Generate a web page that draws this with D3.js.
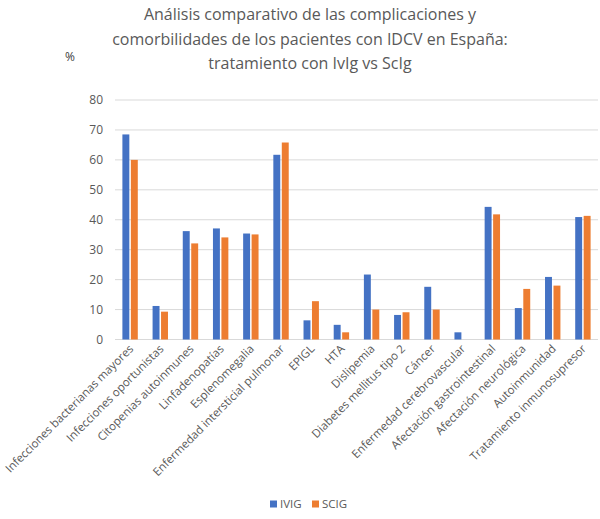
<!DOCTYPE html>
<html>
<head>
<meta charset="utf-8">
<script src="https://cdn.jsdelivr.net/npm/d3@7"></script>
<style>
  body { margin: 0; background: #fff; }
  text { font-family: "Open Sans", "Noto Sans", sans-serif; }
</style>
</head>
<body>
<svg id="chart" width="600" height="519"></svg>
<script>
// chart data
const categories = [
  "Infecciones bacterianas mayores", "Infecciones oportunistas", "Citopenias autoinmunes",
  "Linfadenopatías", "Esplenomegalia", "Enfermedad intersticial pulmonar", "EPIGL", "HTA",
  "Dislipemia", "Diabetes mellitus tipo 2", "Cáncer", "Enfermedad cerebrovascular",
  "Afectación gastrointestinal", "Afectación neurológica", "Autoinmunidad", "Tratamiento inmunosupresor"
];
const seriesNames = ["IVIG", "SCIG"];
const ivig = [68.5, 11.2, 36.2, 37.1, 35.4, 61.7, 6.4, 4.9, 21.7, 8.2, 17.6, 2.4, 44.3, 10.5, 20.9, 40.9];
const scig = [60.0, 9.3, 32.1, 34.1, 35.1, 65.8, 12.8, 2.4, 10.0, 9.1, 10.0, 0, 41.8, 16.9, 18.0, 41.3];
const yTicks = [0, 10, 20, 30, 40, 50, 60, 70, 80];
const titleLines = [
  "Análisis comparativo de las complicaciones y",
  "comorbilidades de los pacientes con IDCV en España:",
  "tratamiento con IvIg vs ScIg"
];

const colors = {IVIG: "#4472C4", SCIG: "#ED7D31"};
const svg = d3.select("#chart");

const plot = {left: 115, right: 598, top: 100, bottom: 339.5};

const x = d3.scaleBand().domain(categories).range([plot.left, plot.right]).paddingInner(0.49).paddingOuter(0.245);
const xs = d3.scaleBand().domain(seriesNames).range([0, x.bandwidth()]).paddingInner(0.18);
const y = d3.scaleLinear().domain([0, 80]).range([plot.bottom, plot.top]);

// gridlines
svg.append("g")
  .selectAll("line")
  .data(yTicks)
  .join("line")
  .attr("x1", plot.left).attr("x2", plot.right)
  .attr("y1", d => y(d)).attr("y2", d => y(d))
  .attr("stroke", "#d9d9d9").attr("stroke-width", 1);

// y labels
svg.append("g")
  .selectAll("text")
  .data(yTicks)
  .join("text")
  .attr("x", 103).attr("y", d => y(d))
  .attr("dy", "0.35em")
  .attr("text-anchor", "end")
  .attr("font-size", 12)
  .attr("fill", "#595959")
  .text(d => d);

// bars
const rows = categories.map((c, i) => ({cat: c, values: [
  {key: "IVIG", v: ivig[i]}, {key: "SCIG", v: scig[i]}
]}));

svg.append("g")
  .selectAll("g")
  .data(rows)
  .join("g")
  .attr("transform", d => "translate(" + x(d.cat) + ",0)")
  .selectAll("rect")
  .data(d => d.values)
  .join("rect")
  .attr("x", d => xs(d.key))
  .attr("width", xs.bandwidth())
  .attr("y", d => y(d.v))
  .attr("height", d => y(0) - y(d.v))
  .attr("fill", d => colors[d.key]);

// x labels, rotated
svg.append("g")
  .selectAll("text")
  .data(categories)
  .join("text")
  .attr("transform", d => "translate(" + (x(d) + x.bandwidth() / 2 + 4) + "," + (plot.bottom + 10) + ") rotate(-45)")
  .attr("text-anchor", "end")
  .attr("font-size", 11.5)
  .attr("fill", "#595959")
  .text(d => d);

// title
svg.append("g")
  .selectAll("text")
  .data(titleLines)
  .join("text")
  .attr("x", 310)
  .attr("y", (d, i) => 20 + i * 24.5)
  .attr("text-anchor", "middle")
  .attr("font-size", 16)
  .attr("fill", "#595959")
  .text(d => d);

svg.append("text")
  .attr("x", 65).attr("y", 61)
  .attr("font-size", 12)
  .attr("fill", "#404040")
  .text("%");

// legend
const lg = svg.append("g").attr("transform", "translate(270,504)");
let lx = 0;
seriesNames.forEach(s => {
  lg.append("rect").attr("x", lx).attr("y", -3.5).attr("width", 7).attr("height", 7).attr("fill", colors[s]);
  lg.append("text").attr("x", lx + 10).attr("y", 0).attr("dy", "0.35em")
    .attr("font-size", 11.5).attr("fill", "#595959").text(s);
  lx += 42;
});
</script>
</body>
</html>
